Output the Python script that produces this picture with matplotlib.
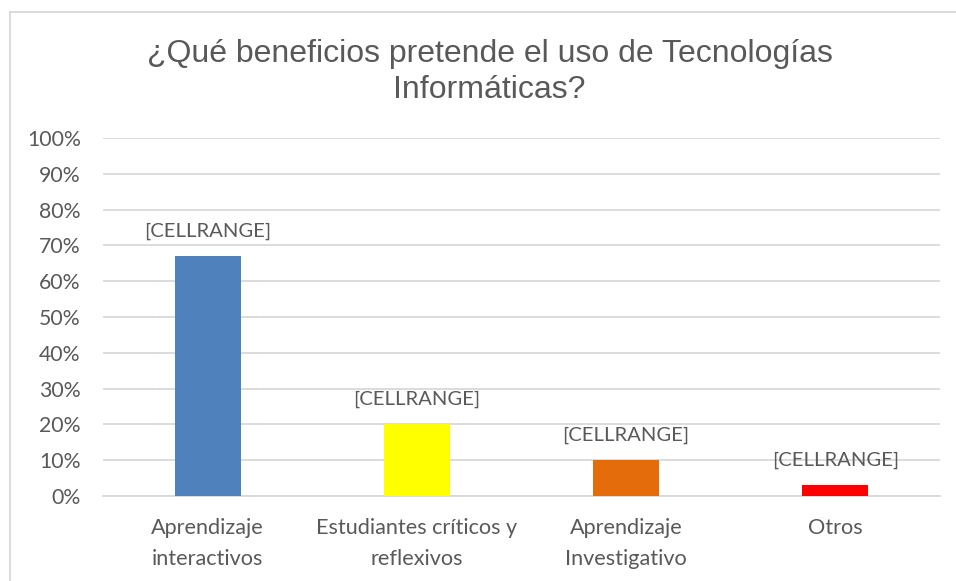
import matplotlib
matplotlib.use("Agg")
from matplotlib import pyplot as plt
from matplotlib.lines import Line2D
from matplotlib.ticker import PercentFormatter

# chart data
categories = ["Aprendizaje\ninteractivos", "Estudiantes críticos y\nreflexivos",
              "Aprendizaje\nInvestigativo", "Otros"]
values = [0.67, 0.20, 0.10, 0.03]
bar_colors = ["#4F81BD", "#FFFF00", "#E46C0A", "#FF0000"]
label_text = "[CELLRANGE]"
title = "¿Qué beneficios pretende el uso de Tecnologías\nInformáticas?"

text_color = "#595959"
grid_color = "#D9D9D9"
body_font = ["Lato", "DejaVu Sans"]

fig = plt.figure(figsize=(9.56, 5.81), dpi=100)
ax = fig.add_axes([0.1077, 0.1463, 0.8755, 0.6162])

x = range(len(categories))
ax.bar(x, values, width=0.315, color=bar_colors, zorder=3)

# data labels sit a bit above each bar
for i, v in enumerate(values):
    ax.annotate(label_text, (i, v), xytext=(0, 18), textcoords="offset points",
                ha="center", va="center", fontsize=14.6, color=text_color,
                family=body_font, zorder=4)

ax.set_xlim(-0.5, len(categories) - 0.5)
ax.set_ylim(0, 1.0)
ax.set_yticks([i / 10 for i in range(11)])
ax.yaxis.set_major_formatter(PercentFormatter(1.0, decimals=0))
ax.grid(axis="y", color=grid_color, linewidth=1.3, zorder=0)

ax.set_xticks(list(x))
ax.set_xticklabels(categories, fontsize=15.6, color=text_color, family=body_font,
                   linespacing=1.65)
for lbl in ax.get_yticklabels():
    lbl.set_fontsize(15.3)
    lbl.set_color(text_color)
    lbl.set_family(body_font)
ax.tick_params(axis="y", length=0, pad=16)
ax.tick_params(axis="x", length=0, pad=16)

for side in ["top", "right", "left"]:
    ax.spines[side].set_visible(False)
ax.spines["bottom"].set_color(grid_color)
ax.spines["bottom"].set_linewidth(1.3)

fig.text(0.512, 0.876, title, ha="center", va="center", fontsize=23,
         color=text_color, family=["Liberation Sans", "DejaVu Sans"], linespacing=1.25)

# chart frame (only top and left edges show in the picture)
fig.add_artist(Line2D([10 / 956, 10 / 956], [0, 1 - 12 / 581], color=grid_color,
                      linewidth=1.3, transform=fig.transFigure))
fig.add_artist(Line2D([10 / 956, 1], [1 - 12 / 581, 1 - 12 / 581], color=grid_color,
                      linewidth=1.3, transform=fig.transFigure))

fig.savefig("out.png", dpi=100)
